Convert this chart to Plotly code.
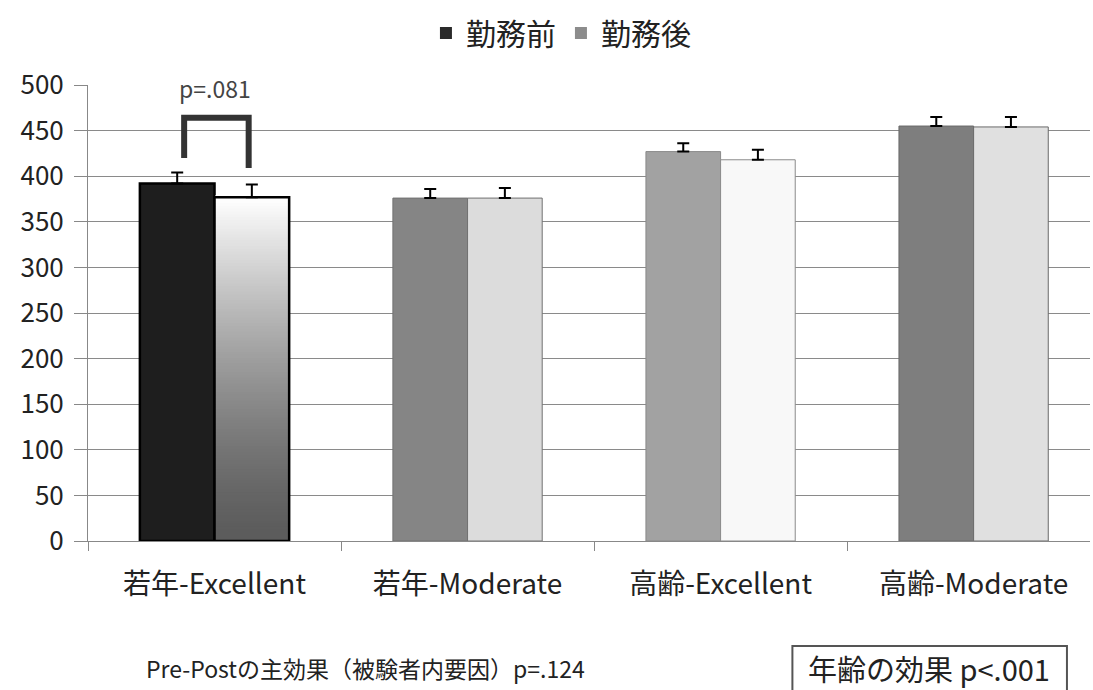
import plotly.graph_objects as go

# Groups and measurements (mean RT with SE)
categories = ["若年-Excellent", "若年-Moderate", "高齢-Excellent", "高齢-Moderate"]
pre_values = [392, 376, 427, 455]
post_values = [377, 376, 418, 454]
pre_errors = [12, 10, 9, 10]
post_errors = [14, 11, 11, 11]
series_names = ["勤務前", "勤務後"]
y_ticks = [0, 50, 100, 150, 200, 250, 300, 350, 400, 450, 500]

FONT = "Noto Sans CJK JP, Noto Sans, sans-serif"

pre_colors = ["#1e1e1e", "#858585", "#a2a2a2", "#7e7e7e"]
post_colors = ["rgba(0,0,0,0)", "#dcdcdc", "#f8f8f8", "#e0e0e0"]
line_colors = ["#000000", "#707070", "#8a8a8a", "#6a6a6a"]
line_widths = [2.5, 1, 1, 1]

W = 0.295

fig = go.Figure()

# before-shift bars
fig.add_trace(go.Bar(
    x=categories, y=pre_values, offset=-W, width=W,
    marker=dict(color=pre_colors, line=dict(color=line_colors, width=line_widths)),
    error_y=dict(type="data", symmetric=False, array=pre_errors,
                 arrayminus=[0] * 4, color="#000", thickness=2, width=6),
    showlegend=False, hoverinfo="skip",
))

# vertical white-to-grey gradient for the first after-shift bar
n_steps = 120
v = post_values[0]
step = v / n_steps
grad_base, grad_h, grad_col = [], [], []
for i in range(n_steps):
    t = i / (n_steps - 1)  # 0 at bottom, 1 at top
    g = int(92 + (255 - 92) * t ** 1.4)
    grad_base.append(i * step)
    grad_h.append(step * 1.6)
    grad_col.append(f"rgb({g},{g},{g})")
fig.add_trace(go.Bar(
    x=[categories[0]] * n_steps, y=grad_h, base=grad_base,
    offset=0.002, width=W - 0.004,
    marker=dict(color=grad_col, line=dict(width=0)),
    showlegend=False, hoverinfo="skip",
))

# after-shift bars
fig.add_trace(go.Bar(
    x=categories, y=post_values, offset=0, width=W,
    marker=dict(color=post_colors, line=dict(color=line_colors, width=line_widths)),
    error_y=dict(type="data", symmetric=False, array=post_errors,
                 arrayminus=[0] * 4, color="#000", thickness=2, width=6),
    showlegend=False, hoverinfo="skip",
))

# legend entries
for name, col in zip(series_names, ["#2a2a2a", "#8c8c8c"]):
    fig.add_trace(go.Bar(x=[categories[0]], y=[None], name=name,
                         marker=dict(color=col, line=dict(width=0))))

shapes = [
    # significance bracket over the first pair
    dict(type="path", xref="x", yref="y",
         path="M -0.12,420 L -0.12,464 L 0.135,464 L 0.135,409",
         line=dict(color="#333333", width=6)),
    # box around the age-effect note
    dict(type="rect", xref="paper", yref="paper",
         x0=0.703, x1=0.977, y0=-0.40, y1=-0.230,
         line=dict(color="#555555", width=2), fillcolor="rgba(0,0,0,0)"),
]

annotations = [
    dict(x=0, y=497, xref="x", yref="y", text="p=.081", showarrow=False,
         xanchor="center", yanchor="middle",
         bgcolor="white", font=dict(family=FONT, size=23, color="#444")),
    dict(x=0.277, y=-0.279, xref="paper", yref="paper",
         xanchor="center", yanchor="middle",
         text="Pre-Postの主効果（被験者内要因）p=.124", showarrow=False,
         font=dict(family=FONT, size=23, color="#222")),
    dict(x=0.839, y=-0.279, xref="paper", yref="paper",
         xanchor="center", yanchor="middle",
         text="年齢の効果 p<.001", showarrow=False,
         font=dict(family=FONT, size=29, color="#222")),
]

fig.update_layout(
    width=1093, height=690,
    margin=dict(l=88, r=3, t=85, b=149, autoexpand=False),
    paper_bgcolor="white", plot_bgcolor="white",
    barmode="overlay",
    font=dict(family=FONT, color="#222"),
    legend=dict(orientation="h", x=0.472, xanchor="center", y=1.114, yanchor="middle",
                font=dict(family=FONT, size=30, color="#222"),
                itemsizing="constant", traceorder="normal", itemwidth=30),
    shapes=shapes, annotations=annotations,
)

fig.update_xaxes(
    type="category", categoryorder="array", categoryarray=categories,
    range=[-0.5, 3.46],
    showline=True, linecolor="#888", linewidth=1,
    ticks="outside", tickson="boundaries", ticklen=9, tickcolor="#888",
    ticklabelstandoff=18,
    tickfont=dict(family=FONT, size=28, color="#222"),
    showgrid=False,
)
fig.update_yaxes(
    range=[0, 500], tickvals=y_ticks,
    showline=True, linecolor="#888", linewidth=1,
    ticks="outside", ticklen=13, tickcolor="#888",
    ticklabelstandoff=5,
    showgrid=True, gridcolor="#8a8a8a", gridwidth=1,
    tickfont=dict(family=FONT, size=26, color="#222"),
    zeroline=False,
)

fig.write_html("out.html")
